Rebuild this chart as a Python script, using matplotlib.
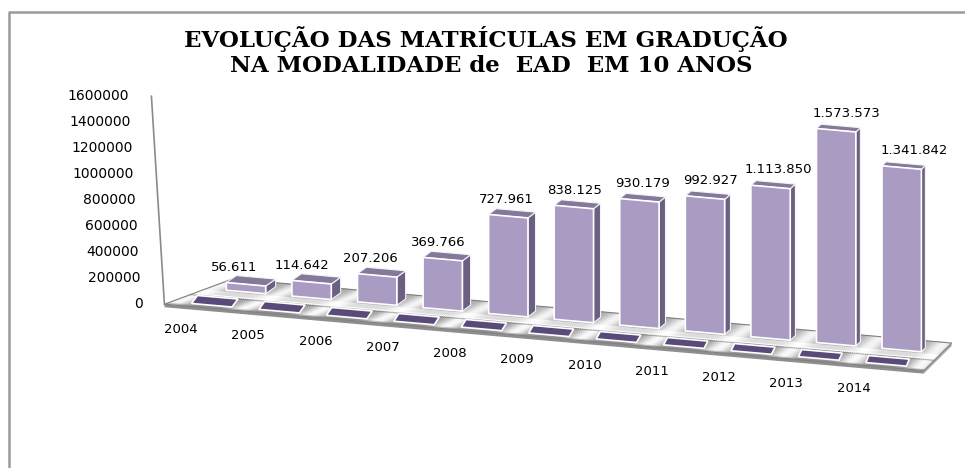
import numpy as np
import matplotlib.pyplot as plt
from matplotlib.patches import Polygon

# dados (matrículas EAD por ano)
anos = ['2004', '2005', '2006', '2007', '2008', '2009', '2010', '2011', '2012', '2013', '2014']
matriculas = [56611, 114642, 207206, 369766, 727961, 838125, 930179, 992927, 1113850, 1573573, 1341842]
rotulos = ['56.611', '114.642', '207.206', '369.766', '727.961', '838.125', '930.179',
           '992.927', '1.113.850', '1.573.573', '1.341.842']
ticks_y = [0, 200000, 400000, 600000, 800000, 1000000, 1200000, 1400000, 1600000]

titulo1 = 'EVOLUÇÃO DAS MATRÍCULAS EM GRADUÇÃO'
titulo2 = 'NA MODALIDADE de  EAD  EM 10 ANOS'

# "projeção 3D" simples: linha frontal do piso + vetor de profundidade que muda com a categoria
F0 = np.array([205.1, 307.8])
FS = np.array([67.8, 5.93])
G0 = np.array([66.0, -25.5])
GS = np.array([-3.6, -0.2])
ESCALA = 0.000136          # px por matrícula
ESCALA_EIXO = 0.00013
U_ESQ, U_DIR = -0.6, 10.6


def proj(u, d, v=0.0):
    p = F0 + u * FS + d * (G0 + u * GS)
    return (p[0], p[1] - ESCALA * v)


def prof(u, esq, dir_):
    # profundidade visivel de cada barra/retangulo (perspectiva)
    t = u / 10.0
    return (esq[0] + t * (dir_[0] - esq[0]), esq[1] + t * (dir_[1] - esq[1]))


def mais(p, h):
    return (p[0] + h[0], p[1] + h[1])


fig = plt.figure(figsize=(9.65, 4.68), dpi=100)
ax = fig.add_axes([0, 0, 1, 1])
ax.set_xlim(0, 965)
ax.set_ylim(468, 0)
ax.axis('off')

# moldura
ax.plot([9, 9, 965], [468, 12, 12], color='#9a9a9a', lw=1.8, solid_capstyle='butt')

# titulo
ax.text(486, 47, titulo1, ha='center', va='baseline', fontsize=16.5,
        family='DejaVu Serif', weight='bold')
ax.text(491, 72, titulo2, ha='center', va='baseline', fontsize=16.5,
        family='DejaVu Serif', weight='bold')

# piso: espessura
esp = 3
pts = [proj(U_ESQ, 0), proj(U_DIR, 0), proj(U_DIR, 1)]
ax.add_patch(Polygon([pts[0], pts[1], (pts[1][0], pts[1][1] + esp), (pts[0][0], pts[0][1] + esp)],
                     closed=True, fc='#8e8e8e', ec='none'))
ax.add_patch(Polygon([pts[1], pts[2], (pts[2][0], pts[2][1] + esp), (pts[1][0], pts[1][1] + esp)],
                     closed=True, fc='#a8a8a8', ec='none'))

# piso: faixas com gradiente
us = np.linspace(U_ESQ, U_DIR, 400)
for ua, ub in zip(us[:-1], us[1:]):
    um = 0.5 * (ua + ub)
    c = (0.5 + 0.5 * np.cos(2 * np.pi * (um + 0.5))) ** 3
    faixas = [(0.0, 0.06, 0.55 + 0.2 * c), (0.06, 0.36, 0.6 + 0.38 * c),
              (0.36, 0.40, 0.5 + 0.2 * c), (0.40, 0.44, 1.0),
              (0.44, 0.58, 0.86 + 0.14 * c), (0.58, 1.0, 0.66 + 0.3 * c)]
    for da, db, g in faixas:
        ax.add_patch(Polygon([proj(ua, da), proj(ub, da), proj(ub, db), proj(ua, db)],
                             closed=True, fc=(g, g, g), ec=(g, g, g), lw=0.3))
ax.add_patch(Polygon([proj(U_ESQ, 0), proj(U_DIR, 0), proj(U_DIR, 1), proj(U_ESQ, 1)],
                     closed=True, fc='none', ec='#808080', lw=0.8))

# eixo y
x_base, y_base = proj(U_ESQ, 0)
inclina = -13 / 1600000


def eixo(v):
    return (x_base + inclina * v, y_base - ESCALA_EIXO * v)


ax.plot([eixo(0)[0], eixo(ticks_y[-1])[0]], [eixo(0)[1], eixo(ticks_y[-1])[1]],
        color='#8a8a8a', lw=1.2)
for t in ticks_y:
    x, y = eixo(t)
    ax.text(x - 22, y, str(t), ha='right', va='center', fontsize=10, family='DejaVu Sans')

# retangulos escuros (serie da frente)
w = 0.30
for i in range(len(anos)):
    h = prof(i, (6, -8), (3, -7))
    a, b = proj(i - w, 0.1), proj(i + w, 0.1)
    ax.add_patch(Polygon([a, b, mais(b, h), mais(a, h)],
                         closed=True, fc='#5a4a7a', ec='white', lw=1.2))

# barras
d0 = 0.62
for i, v in enumerate(matriculas):
    h = prof(i, (10, -7), (4, -4))
    fa, fb = proj(i - w, d0, 0), proj(i + w, d0, 0)
    ta, tb = proj(i - w, d0, v), proj(i + w, d0, v)
    topo = [ta, tb, mais(tb, h), mais(ta, h)]
    lado = [fb, mais(fb, h), mais(tb, h), tb]
    frente = [fa, fb, tb, ta]
    ax.add_patch(Polygon(lado, closed=True, fc='#6c6082', ec='#f4f4f4', lw=0.8))
    ax.add_patch(Polygon(topo, closed=True, fc='#85799b', ec='#f4f4f4', lw=0.8))
    ax.add_patch(Polygon(frente, closed=True, fc='#a99bc2', ec='white', lw=1.2))

# rotulos de valor
for i, (v, r) in enumerate(zip(matriculas, rotulos)):
    x, y = proj(i, d0, v)
    ax.text(x - 12 + 2.5 * i, y - 17, r, ha='center', va='center', fontsize=9.5, family='DejaVu Sans')

# anos
for i, a in enumerate(anos):
    x, y = proj(i, 0.15)
    ax.text(x - 34, y + 26, a, ha='center', va='center', fontsize=9.5, family='DejaVu Sans')

fig.savefig('out.png', dpi=100)
